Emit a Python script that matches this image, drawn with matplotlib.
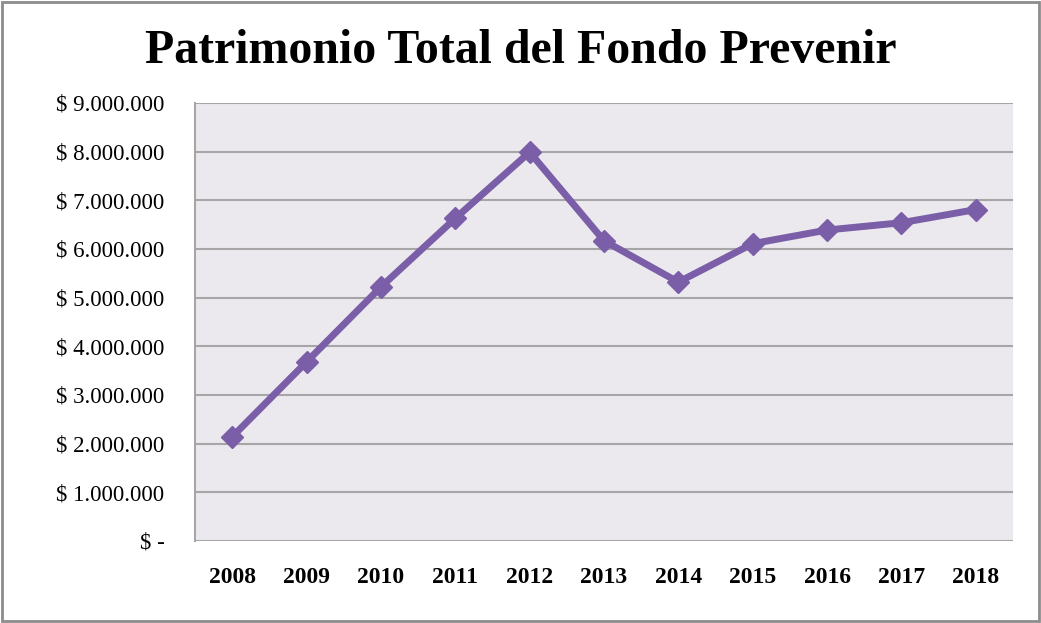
import matplotlib.pyplot as plt
from matplotlib.ticker import FuncFormatter
from matplotlib.patches import Rectangle

plt.rcParams["font.family"] = ["Liberation Serif", "DejaVu Serif"]

years = ["2008", "2009", "2010", "2011", "2012", "2013",
         "2014", "2015", "2016", "2017", "2018"]
patrimonio = [2140000, 3680000, 5220000, 6630000, 7990000, 6170000,
              5320000, 6110000, 6390000, 6540000, 6810000]
y_ticks = list(range(0, 9000001, 1000000))


def peso_fmt(v, pos):
    if v == 0:
        return "$ -"
    return "$ " + f"{int(v):,}".replace(",", ".")


fig = plt.figure(figsize=(10.41, 6.23), dpi=100)
ax = fig.add_axes([195 / 1041, 1 - 541 / 623, 818 / 1041, 438 / 623])

x = range(len(years))
ax.plot(x, patrimonio, color="#7A5EA8", lw=5, marker="D", ms=11,
        solid_joinstyle="miter")

ax.set_facecolor("#ECE9EE")
ax.set_xlim(-0.5, len(years) - 0.5)
ax.set_ylim(0, 9000000)
ax.set_yticks(y_ticks)
ax.yaxis.set_major_formatter(FuncFormatter(peso_fmt))
ax.set_xticks(list(x))
ax.set_xticklabels(years, fontweight="bold")
ax.grid(axis="y", color="#A6A6A6", lw=1.5)
ax.set_axisbelow(True)
ax.tick_params(axis="both", length=0)
ax.tick_params(axis="y", pad=22, labelsize=16.5)
ax.tick_params(axis="x", pad=19, labelsize=17)
for s in ["top", "right", "bottom"]:
    ax.spines[s].set_visible(False)
ax.spines["left"].set_color("#A6A6A6")
ax.spines["left"].set_linewidth(1.5)

fig.text(0.5, 1 - 51 / 623, "Patrimonio Total del Fondo Prevenir",
         ha="center", va="center", fontsize=34.5, fontweight="bold")

fig.patches.append(Rectangle((0.002, 0.003), 0.996, 0.994, transform=fig.transFigure,
                             fill=False, edgecolor="#8C8C8C", lw=2))

fig.savefig("out.png", dpi=100)
